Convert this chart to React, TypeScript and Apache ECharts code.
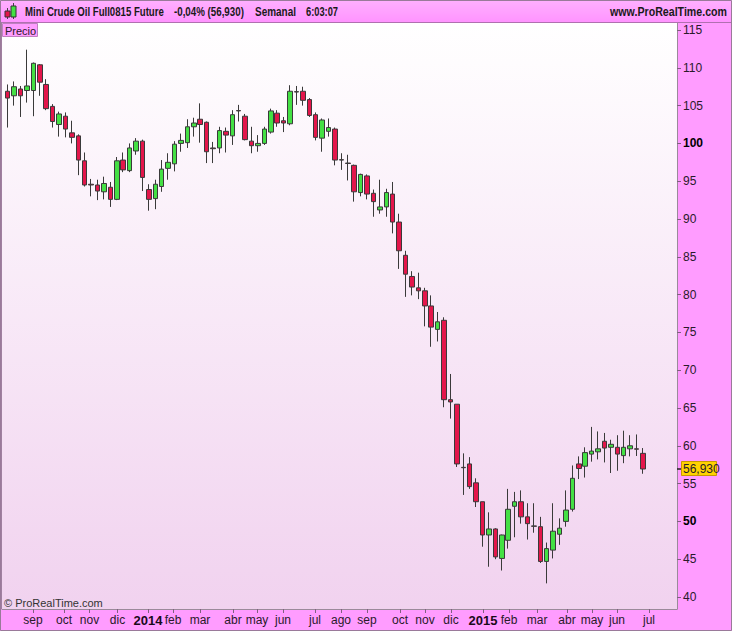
import React, { useEffect, useRef } from "react";
import * as echarts from "echarts";

// Weekly OHLC, Mini Crude Oil (Aug 2013 – Jul 2015)
const opens = [
  106.9, 106.3, 107.2, 107.0, 107.0, 110.4, 107.8, 104.9, 102.5, 103.6,
  101.4, 101.0, 97.7, 94.6, 94.5, 93.6, 94.2, 92.6, 97.8, 96.4,
  99.0, 100.3, 93.9, 92.7, 94.3, 96.7, 97.3, 100.0, 100.1, 102.2,
  103.2, 102.8, 99.4, 99.4, 101.6, 101.0, 104.35, 103.6, 100.3, 99.7,
  100.0, 101.5, 104.0, 103.0, 102.6, 106.85, 106.9, 105.8, 103.8, 100.7,
  101.6, 101.9, 97.85, 97.4, 97.1, 93.5, 95.7, 93.4, 91.2, 91.6,
  93.3, 89.6, 85.2, 82.4, 80.9, 80.5, 78.5, 75.4, 76.6, 66.1,
  65.5, 57.15, 57.6, 55.1, 52.6, 48.2, 49.0, 45.1, 47.5, 52.0,
  52.6, 50.6, 49.4, 49.3, 44.7, 46.2, 48.3, 50.0, 51.6, 57.6,
  57.3, 58.9, 59.2, 60.6, 59.8, 59.8, 58.7, 59.6, 59.6, 59.0,
];
const highs = [
  107.8, 108.2, 107.6, 112.4, 110.7, 110.5, 108.5, 105.2, 104.2, 104.1,
  103.0, 101.2, 98.8, 95.3, 95.2, 95.6, 94.9, 98.2, 98.8, 100.0,
  100.7, 100.5, 94.6, 95.2, 97.8, 98.7, 100.3, 101.3, 103.2, 103.4,
  105.3, 102.9, 100.2, 102.2, 102.1, 104.4, 105.1, 103.9, 102.2, 101.1,
  102.2, 104.6, 104.4, 103.5, 107.7, 107.6, 107.5, 106.0, 104.1, 103.3,
  103.3, 102.1, 98.7, 98.5, 97.2, 96.0, 95.9, 93.9, 95.2, 94.0,
  94.9, 90.7, 85.8, 83.1, 82.9, 80.9, 79.9, 77.7, 77.0, 69.5,
  65.5, 59.0, 58.5, 55.7, 52.6, 51.2, 49.1, 48.25, 54.3, 53.9,
  54.1, 52.4, 52.4, 50.6, 47.2, 52.4, 50.4, 54.1, 57.4, 58.6,
  59.8, 62.5, 61.9, 61.7, 60.8, 61.4, 62.0, 61.4, 61.5, 59.7,
];
const lows = [
  102.1, 105.0, 103.5, 105.4, 103.6, 106.3, 104.4, 102.1, 100.9, 100.8,
  100.0, 95.8, 94.3, 93.0, 92.5, 92.6, 91.6, 92.5, 96.2, 96.2,
  98.5, 93.7, 91.1, 91.3, 93.6, 95.2, 96.3, 98.9, 99.4, 100.9,
  100.1, 97.4, 97.4, 98.7, 98.8, 99.8, 102.9, 100.4, 98.7, 98.9,
  99.8, 101.3, 102.2, 101.5, 102.4, 105.1, 105.0, 103.5, 100.4, 98.9,
  100.9, 97.1, 96.5, 95.1, 92.3, 93.0, 92.6, 90.3, 90.7, 90.3,
  88.1, 83.4, 79.7, 79.9, 79.4, 75.8, 73.1, 73.8, 65.1, 63.6,
  57.2, 53.5, 54.3, 51.9, 46.65, 44.0, 45.0, 43.5, 46.4, 47.9,
  49.7, 47.6, 48.5, 44.5, 41.8, 45.1, 46.9, 49.3, 51.3, 55.6,
  55.8, 57.9, 58.2, 57.8, 56.4, 56.7, 57.7, 58.6, 58.65, 56.3,
];
const closes = [
  106.0, 107.5, 106.3, 107.6, 110.6, 108.1, 104.6, 102.9, 103.9, 101.9,
  100.8, 97.8, 94.5, 94.5, 93.7, 94.7, 92.6, 97.7, 96.5, 99.4,
  100.3, 95.5, 92.6, 94.6, 96.6, 97.5, 99.9, 100.4, 102.2, 102.7,
  102.5, 98.9, 99.3, 101.7, 101.1, 103.8, 104.3, 100.5, 99.7, 100.0,
  101.9, 104.3, 102.7, 102.7, 106.9, 106.8, 105.7, 103.7, 100.8, 103.1,
  102.1, 97.8, 97.8, 97.35, 93.6, 95.9, 93.3, 92.3, 91.6, 93.5,
  89.6, 85.8, 82.7, 81.0, 80.5, 78.5, 75.7, 76.4, 66.1, 65.8,
  57.6, 57.1, 54.6, 52.6, 48.2, 49.0, 45.3, 48.2, 51.6, 52.6,
  50.6, 49.7, 49.35, 44.7, 46.4, 48.7, 49.1, 51.5, 55.7, 57.0,
  59.1, 59.3, 59.6, 59.7, 60.2, 58.9, 59.8, 60.0, 59.55, 56.93,
];

// Month ticks, in week units (week 0 = first bar)
const monthTickWeeks = [
  3.94, 8.77, 12.75, 17.11, 21.86, 25.76, 29.97, 35.11, 38.85, 42.9, 47.89,
  51.94, 55.99, 61.13, 65.03, 69.08, 74.07, 78.12, 82.49, 87.16, 91.06, 94.95, 99.94,
];
const monthTickLabels = [
  "sep", "oct", "nov", "dic", "2014", "feb", "mar", "abr", "may", "jun", "jul",
  "ago", "sep", "oct", "nov", "dic", "2015", "feb", "mar", "abr", "may", "jun", "jul",
];
const yearLabels = ["2014", "2015"];
const priceTicks = [40, 45, 50, 55, 60, 65, 70, 75, 80, 85, 90, 95, 100, 105, 110, 115];
const boldPrices = [50, 100];

const titleName = "Mini Crude Oil Full0815 Future";
const titleChange = "-0,04% (56,930)";
const titlePeriod = "Semanal";
const titleTime = "6:03:07";
const siteText = "www.ProRealTime.com";
const copyrightText = "\u00a9 ProRealTime.com";
const panelLabel = "Precio";

const NARROW = "'Liberation Sans Narrow', 'Arial Narrow', 'Liberation Sans', Arial, sans-serif";
const SANS = "'Liberation Sans', Arial, sans-serif";
const HEADER_FONT = `bold 12px ${SANS}`;

function measure(text: string, font: string): number {
  const c = document.createElement("canvas");
  const ctx = c.getContext("2d");
  if (!ctx) return text.length * 6;
  ctx.font = font;
  return ctx.measureText(text).width;
}

export default function App() {
  const ref = useRef<HTMLDivElement>(null);

  useEffect(() => {
    if (!ref.current) return;
    const chart = echarts.init(ref.current, null, { renderer: "svg" });

    const W = 732;
    const H = 631;
    const plotL = 2;
    const plotR = 677;
    const plotT = 23;
    const plotB = 609;
    const firstBarX = 7.7;
    const barStep = 6.417;
    const xMin = (plotL - firstBarX) / barStep;
    const xMax = (plotR - firstBarX) / barStep;
    const yMin = 38.41;
    const yMax = 115.93;

    const rows = opens.map((o, i) => [i, o, closes[i], lows[i], highs[i]]);

    const labelFor = (v: number) => {
      let best = 0;
      let bd = Infinity;
      monthTickWeeks.forEach((w, i) => {
        const d = Math.abs(w - v);
        if (d < bd) {
          bd = d;
          best = i;
        }
      });
      const t = monthTickLabels[best];
      return yearLabels.includes(t) ? `{y|${t}}` : `{m|${t}}`;
    };

    // header text: [text, left x, right x]
    const headerSpans: [string, string, number, number][] = [
      ["t1", titleName, 25, 164],
      ["t2", titleChange, 174, 244],
      ["t3", titlePeriod, 255, 296],
      ["t4", titleTime, 306, 338],
    ];
    const headerTexts = headerSpans.map(([id, text, x0, x1]) => {
      const w = measure(text, HEADER_FONT);
      const s = Math.min(1, (x1 - x0) / w);
      return {
        id,
        type: "text",
        z: 20,
        x: x0,
        y: 11.5,
        scaleX: s,
        style: { text, font: HEADER_FONT, fill: "#1a1a1a", verticalAlign: "middle" },
      };
    });
    const siteW = measure(siteText, HEADER_FONT);
    const siteScale = Math.min(1, (727 - 610) / siteW);

    const option: any = {
      animation: false,
      backgroundColor: "#ffffff",
      grid: {
        left: plotL,
        right: W - plotR,
        top: plotT,
        bottom: H - plotB,
        show: false,
      },
      dataset: {
        source: rows,
        dimensions: ["week", "open", "close", "low", "high"],
      },
      xAxis: {
        type: "value",
        min: xMin,
        max: xMax,
        position: "bottom",
        axisLine: { show: true, onZero: false, lineStyle: { color: "#9a8a9a", width: 1 } },
        axisTick: {
          show: true,
          customValues: monthTickWeeks,
          length: 4,
          lineStyle: { color: "#806080" },
        },
        axisLabel: {
          customValues: monthTickWeeks,
          formatter: (v: number) => labelFor(v),
          margin: 5,
          rich: {
            m: { fontFamily: NARROW, fontSize: 12, color: "#2a1a2a" },
            y: { fontFamily: NARROW, fontSize: 13, fontWeight: "bold", color: "#1a0a1a" },
          },
        },
        splitLine: { show: false },
      },
      yAxis: {
        type: "value",
        position: "right",
        min: yMin,
        max: yMax,
        scale: true,
        axisLine: { show: true, onZero: false, lineStyle: { color: "#9a8a9a", width: 1 } },
        axisTick: {
          show: true,
          customValues: priceTicks,
          length: 4,
          lineStyle: { color: "#806080" },
        },
        axisLabel: {
          customValues: priceTicks,
          margin: 6,
          formatter: (v: number) =>
            boldPrices.includes(Math.round(v)) ? `{b|${Math.round(v)}}` : `{n|${Math.round(v)}}`,
          rich: {
            n: { fontFamily: NARROW, fontSize: 12, color: "#2a1a2a" },
            b: { fontFamily: NARROW, fontSize: 12, fontWeight: "bold", color: "#000000" },
          },
        },
        splitLine: { show: false },
      },
      series: [
        {
          type: "candlestick",
          encode: { x: "week", y: ["open", "close", "low", "high"] },
          barWidth: 5,
          itemStyle: {
            color: "#44e044",
            color0: "#e3164b",
            borderColor: "#3a3a3a",
            borderColor0: "#3a3a3a",
            borderColorDoji: "#222222",
            borderWidth: 1,
          },
          z: 5,
        },
      ],
      graphic: [
        {
          id: "plotbg",
          type: "rect",
          z: -100,
          shape: { x: plotL, y: plotT, width: plotR - plotL, height: plotB - plotT },
          style: {
            fill: new echarts.graphic.LinearGradient(0, 0, 0, 1, [
              { offset: 0, color: "#ffffff" },
              { offset: 1, color: "#f1d2ef" },
            ]),
          },
          silent: true,
        },
        {
          id: "rightstrip",
          type: "rect",
          z: -100,
          shape: { x: plotR, y: 22, width: W - plotR, height: H - 22 },
          style: { fill: "#ff9cff" },
          silent: true,
        },
        {
          id: "bottomstrip",
          type: "rect",
          z: -100,
          shape: { x: 0, y: plotB, width: plotR, height: H - plotB },
          style: { fill: "#ff9cff" },
          silent: true,
        },
        {
          id: "header",
          type: "rect",
          z: -100,
          shape: { x: 0, y: 0, width: W, height: 22 },
          style: {
            fill: new echarts.graphic.LinearGradient(0, 0, 0, 1, [
              { offset: 0, color: "#ffb0ff" },
              { offset: 1, color: "#ff94ff" },
            ]),
          },
          silent: true,
        },
        {
          id: "headerline",
          type: "line",
          z: 20,
          shape: { x1: 0, y1: 22.5, x2: W, y2: 22.5 },
          style: { stroke: "#b070b0", lineWidth: 1 },
          silent: true,
        },
        {
          id: "plotleft",
          type: "line",
          z: 20,
          shape: { x1: 1.5, y1: 22, x2: 1.5, y2: plotB },
          style: { stroke: "#a080a0", lineWidth: 1 },
          silent: true,
        },
        {
          id: "outer",
          type: "rect",
          z: 30,
          shape: { x: 0.5, y: 0.5, width: W - 1, height: H - 1 },
          style: { fill: "none", stroke: "#9a7a9a", lineWidth: 1 },
          silent: true,
        },
        {
          id: "icon-r-wick",
          type: "line",
          z: 20,
          shape: { x1: 7.5, y1: 8, x2: 7.5, y2: 19 },
          style: { stroke: "#444", lineWidth: 1 },
        },
        {
          id: "icon-r",
          type: "rect",
          z: 21,
          shape: { x: 5, y: 11, width: 5, height: 6 },
          style: { fill: "#e3164b", stroke: "#333", lineWidth: 1 },
        },
        {
          id: "icon-g-wick",
          type: "line",
          z: 20,
          shape: { x1: 13.5, y1: 3, x2: 13.5, y2: 19 },
          style: { stroke: "#444", lineWidth: 1 },
        },
        {
          id: "icon-g",
          type: "rect",
          z: 21,
          shape: { x: 11, y: 6, width: 5, height: 11 },
          style: { fill: "#44e044", stroke: "#333", lineWidth: 1 },
        },
        ...headerTexts,
        {
          id: "site",
          type: "text",
          z: 20,
          x: 727,
          y: 11.5,
          scaleX: siteScale,
          style: {
            text: siteText,
            font: HEADER_FONT,
            fill: "#1a1a1a",
            align: "right",
            verticalAlign: "middle",
          },
        },
        {
          id: "precio-box",
          type: "rect",
          z: 20,
          shape: { x: 2.5, y: 23.5, width: 35, height: 13 },
          style: { fill: "#ff9cff", stroke: "#c080c0", lineWidth: 1 },
        },
        {
          id: "precio",
          type: "text",
          z: 21,
          x: 5,
          y: 30.5,
          style: {
            text: panelLabel,
            font: `11px ${NARROW}`,
            fill: "#2a1a2a",
            verticalAlign: "middle",
          },
        },
        {
          id: "copy",
          type: "text",
          z: 20,
          x: 4,
          y: 603,
          style: {
            text: copyrightText,
            font: `11px ${SANS}`,
            fill: "#333333",
            verticalAlign: "middle",
          },
        },
      ],
    };

    chart.setOption(option);

    const lastClose = closes[closes.length - 1];
    const py = chart.convertToPixel({ yAxisIndex: 0 }, lastClose) as number;
    chart.setOption({
      graphic: [
        {
          id: "tag-tick",
          type: "line",
          z: 25,
          shape: { x1: plotR, y1: py, x2: plotR + 5, y2: py },
          style: { stroke: "#222", lineWidth: 1.5 },
        },
        {
          id: "tag-box",
          type: "rect",
          z: 25,
          shape: { x: plotR + 4.5, y: py - 7.5, width: 35, height: 14 },
          style: { fill: "#ffd200", stroke: "#c89a00", lineWidth: 1 },
        },
        {
          id: "tag-text",
          type: "text",
          z: 26,
          x: plotR + 6,
          y: py,
          style: {
            text: lastClose.toFixed(3).replace(".", ","),
            font: `12px ${NARROW}`,
            fill: "#2a1a2a",
            verticalAlign: "middle",
          },
        },
      ],
    });

    return () => chart.dispose();
  }, []);

  return (
    <div
      ref={ref}
      style={{ position: "fixed", left: 0, top: 0, width: 732, height: 631 }}
    />
  );
}
